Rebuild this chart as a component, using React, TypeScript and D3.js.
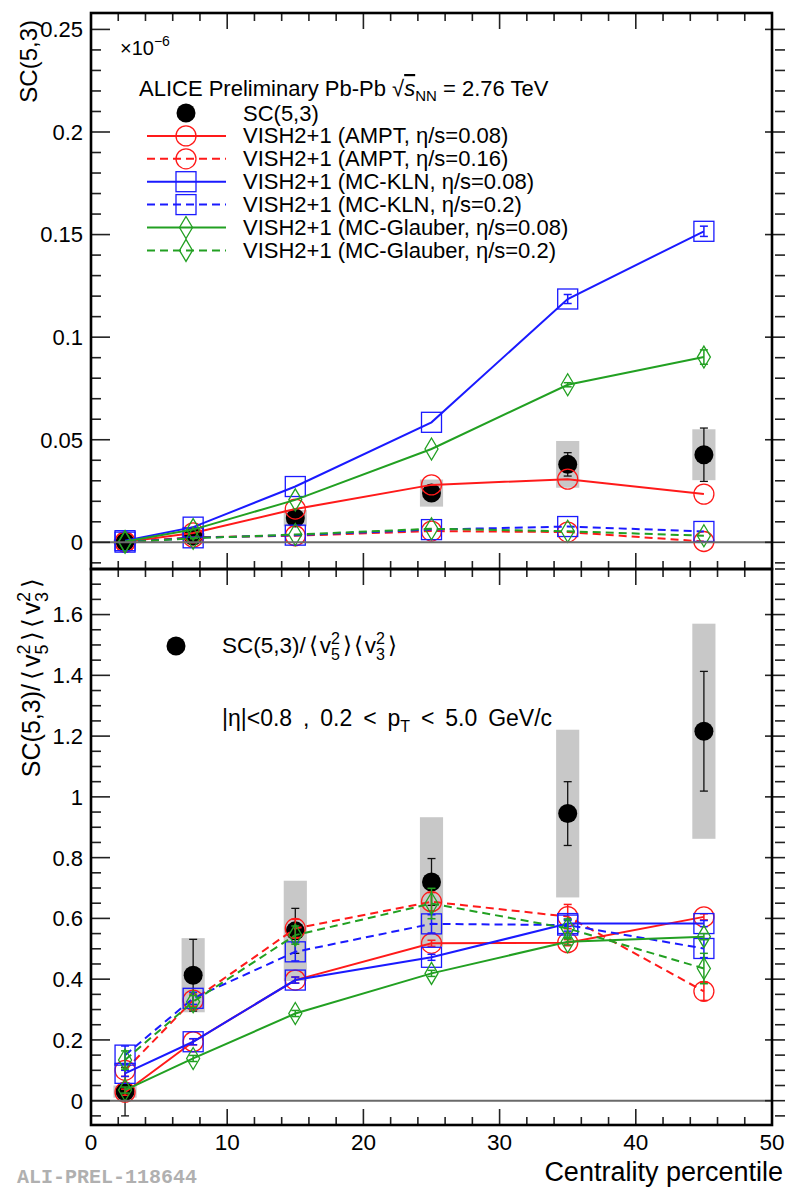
import React from "react";
import * as d3 from "d3";

// ---------------- data ----------------
const centrality = [2.5, 7.5, 15, 25, 35, 45];

// top panel: SC(5,3) in units of 1e-6
const scValues = [0.0003, 0.003, 0.0118, 0.024, 0.0380, 0.0427];
const scStat = [0.0005, 0.0008, 0.0015, 0.002, 0.0057, 0.013];
const scSyst = [0.001, 0.0015, 0.004, 0.0066, 0.0114, 0.0124];

const amptEta008 = [0.0002, 0.0046, 0.0162, 0.028, 0.0308, 0.0235];
const amptEta016 = [0.0001, 0.0025, 0.0032, 0.0055, 0.0050, 0.0004];
const klnEta008 = [0.0008, 0.0074, 0.0272, 0.0585, 0.1186, 0.1516];
const klnEta02 = [0.0001, 0.0022, 0.0035, 0.0062, 0.0077, 0.0053];
const glauberEta008 = [0.0004, 0.0062, 0.0207, 0.0455, 0.0768, 0.0903];
const glauberEta02 = [0.0001, 0.002, 0.0038, 0.0066, 0.0054, 0.0032];

const klnEta008Err = [0, 0, 0, 0, 0.0022, 0.0025];
const glauberEta008Err = [0, 0, 0, 0, 0.001, 0.0035];
const zeroErr = [0, 0, 0, 0, 0, 0];

// bottom panel: SC(5,3)/<v5^2><v3^2>
const ratioValues = [0.03, 0.413, 0.559, 0.72, 0.945, 1.216];
const ratioStat = [0.08, 0.118, 0.074, 0.077, 0.105, 0.197];
const ratioSyst = [0.02, 0.122, 0.165, 0.213, 0.276, 0.354];

const amptEta008R = [0.028, 0.194, 0.397, 0.518, 0.52, 0.605];
const amptEta016R = [0.1, 0.331, 0.567, 0.655, 0.606, 0.36];
const klnEta008R = [0.09, 0.194, 0.397, 0.472, 0.583, 0.583];
const klnEta02R = [0.15, 0.337, 0.49, 0.582, 0.578, 0.501];
const glauberEta008R = [0.035, 0.139, 0.287, 0.419, 0.523, 0.54];
const glauberEta02R = [0.134, 0.326, 0.545, 0.649, 0.567, 0.435];

const amptEta008RErr = [0.01, 0.01, 0.01, 0.01, 0.01, 0.01];
const amptEta016RErr = [0.02, 0.02, 0.03, 0.03, 0.04, 0.03];
const klnEta008RErr = [0.01, 0.01, 0.01, 0.01, 0.01, 0.01];
const klnEta02RErr = [0.03, 0.02, 0.03, 0.03, 0.02, 0.03];
const glauberEta008RErr = [0.01, 0.01, 0.01, 0.01, 0.01, 0.01];
const glauberEta02RErr = [0.03, 0.02, 0.03, 0.05, 0.03, 0.05];

const legendLabels = [
  "SC(5,3)",
  "VISH2+1 (AMPT, η/s=0.08)",
  "VISH2+1 (AMPT, η/s=0.16)",
  "VISH2+1 (MC-KLN, η/s=0.08)",
  "VISH2+1 (MC-KLN, η/s=0.2)",
  "VISH2+1 (MC-Glauber, η/s=0.08)",
  "VISH2+1 (MC-Glauber, η/s=0.2)",
];

const xTicksMajor = [0, 10, 20, 30, 40, 50];
const topTicksMajor = [0, 0.05, 0.1, 0.15, 0.2, 0.25];
const botTicksMajor = [0, 0.2, 0.4, 0.6, 0.8, 1, 1.2, 1.4, 1.6];

// ---------------- layout / style ----------------
const W = 786;
const H = 1190;
const X0 = 91;
const X1 = 772;
const TOP_Y0 = 13;
const MID_Y = 569;
const BOT_Y1 = 1125;

const RED = "#ff1a1a";
const BLUE = "#1a1aff";
const GREEN = "#22a022";
const FONT = "'Liberation Sans', Arial, Helvetica, sans-serif";

const x = d3.scaleLinear().domain([0, 50]).range([X0, X1]);
const yTop = d3.scaleLinear().domain([-0.013, 0.258]).range([MID_Y, TOP_Y0]);
const yBot = d3.scaleLinear().domain([-0.08, 1.75]).range([BOT_Y1, MID_Y]);

type MarkerType = "dot" | "circle" | "square" | "diamond";

function Marker({ type, cx, cy, color }: { type: MarkerType; cx: number; cy: number; color: string }) {
  const sw = 1.3;
  if (type === "dot") return <circle cx={cx} cy={cy} r={9.5} fill="#000" />;
  if (type === "circle")
    return <circle cx={cx} cy={cy} r={10} fill="none" stroke={color} strokeWidth={sw} />;
  if (type === "square")
    return <rect x={cx - 10} y={cy - 10} width={20} height={20} fill="none" stroke={color} strokeWidth={sw} />;
  return (
    <path
      d={`M${cx},${cy - 11}L${cx + 6.5},${cy}L${cx},${cy + 11}L${cx - 6.5},${cy}Z`}
      fill="none"
      stroke={color}
      strokeWidth={sw}
    />
  );
}

function ErrorBar({ cx, y, v, e, color, w }: any) {
  if (!e) return null;
  const a = y(v - e);
  const b = y(v + e);
  return (
    <g stroke={color} strokeWidth={w}>
      <line x1={cx} x2={cx} y1={a} y2={b} />
      <line x1={cx - 4} x2={cx + 4} y1={a} y2={a} />
      <line x1={cx - 4} x2={cx + 4} y1={b} y2={b} />
    </g>
  );
}

type Series = { vals: number[]; err: number[]; color: string; dashed: boolean; marker: MarkerType };

function ModelSeries({ s, y }: { s: Series; y: any }) {
  const line = d3
    .line<number>()
    .x((_, i) => x(centrality[i]))
    .y((d) => y(d));
  return (
    <g>
      <path
        d={line(s.vals) || ""}
        fill="none"
        stroke={s.color}
        strokeWidth={2}
        strokeDasharray={s.dashed ? "8 5" : undefined}
      />
      {s.vals.map((v, i) => (
        <ErrorBar key={"e" + i} cx={x(centrality[i])} y={y} v={v} e={s.err[i]} color={s.color} w={1.5} />
      ))}
      {s.vals.map((v, i) => (
        <Marker key={"m" + i} type={s.marker} cx={x(centrality[i])} cy={y(v)} color={s.color} />
      ))}
    </g>
  );
}

function DataSeries({ vals, stat, syst, y }: any) {
  return (
    <g>
      {vals.map((v: number, i: number) => (
        <rect
          key={"b" + i}
          x={x(centrality[i] - 0.85)}
          width={x(centrality[i] + 0.85) - x(centrality[i] - 0.85)}
          y={y(v + syst[i])}
          height={y(v - syst[i]) - y(v + syst[i])}
          fill="#c8c8c8"
        />
      ))}
      {vals.map((v: number, i: number) => (
        <ErrorBar key={"e" + i} cx={x(centrality[i])} y={y} v={v} e={stat[i]} color="#111" w={1.3} />
      ))}
      {vals.map((v: number, i: number) => (
        <Marker key={"m" + i} type="dot" cx={x(centrality[i])} cy={y(v)} color="#000" />
      ))}
    </g>
  );
}

function Frame({ y, major, minorStep, showXLabels }: any) {
  const [yb, yt] = y.range();
  const [d0, d1] = y.domain();
  const xMinor = d3.range(0, 50.001, 2).filter((t: number) => t % 10 !== 0);
  const yMinor = d3
    .range(Math.ceil(d0 / minorStep) * minorStep, d1 + 1e-9, minorStep)
    .filter((t: number) => !major.some((m: number) => Math.abs(m - t) < 1e-9));
  const fmt = d3.format("~g");
  return (
    <g>
      {/* zero line */}
      <line x1={X0} x2={X1} y1={y(0)} y2={y(0)} stroke="#6a6a6a" strokeWidth={2} />
      {/* x ticks bottom & top */}
      {xTicksMajor.map((t) => (
        <g key={"xM" + t} stroke="#222" strokeWidth={1.6}>
          <line x1={x(t)} x2={x(t)} y1={yb} y2={yb - 16} />
          <line x1={x(t)} x2={x(t)} y1={yt} y2={yt + 16} />
        </g>
      ))}
      {xMinor.map((t: number) => (
        <g key={"xm" + t} stroke="#222" strokeWidth={1.6}>
          <line x1={x(t)} x2={x(t)} y1={yb} y2={yb - 8} />
          <line x1={x(t)} x2={x(t)} y1={yt} y2={yt + 8} />
        </g>
      ))}
      {/* y ticks left & right */}
      {major.map((t: number) => (
        <g key={"yM" + t} stroke="#222" strokeWidth={1.6}>
          <line x1={X0} x2={X0 + 19} y1={y(t)} y2={y(t)} />
          <line x1={X1 - 7} x2={X1 + 13} y1={y(t)} y2={y(t)} />
        </g>
      ))}
      {yMinor.map((t: number) => (
        <g key={"ym" + t} stroke="#222" strokeWidth={1.6}>
          <line x1={X0} x2={X0 + 10} y1={y(t)} y2={y(t)} />
          <line x1={X1 + 3} x2={X1 + 13} y1={y(t)} y2={y(t)} />
        </g>
      ))}
      {/* y labels */}
      {major.map((t: number) => (
        <text
          key={"yl" + t}
          x={83}
          y={y(t)}
          dy="0.36em"
          textAnchor="end"
          fontSize={22}
          fontFamily={FONT}
          fill="#000"
        >
          {fmt(t)}
        </text>
      ))}
      {showXLabels &&
        xTicksMajor.map((t) => (
          <text key={"xl" + t} x={x(t)} y={1150} textAnchor="middle" fontSize={22.5} fontFamily={FONT} fill="#000">
            {fmt(t)}
          </text>
        ))}
      {/* frame */}
      <rect x={X0} y={yt} width={X1 - X0} height={yb - yt} fill="none" stroke="#000" strokeWidth={2.6} />
    </g>
  );
}

export default function App() {
  const topSeries: Series[] = [
    { vals: amptEta008, err: zeroErr, color: RED, dashed: false, marker: "circle" },
    { vals: amptEta016, err: zeroErr, color: RED, dashed: true, marker: "circle" },
    { vals: klnEta008, err: klnEta008Err, color: BLUE, dashed: false, marker: "square" },
    { vals: klnEta02, err: zeroErr, color: BLUE, dashed: true, marker: "square" },
    { vals: glauberEta008, err: glauberEta008Err, color: GREEN, dashed: false, marker: "diamond" },
    { vals: glauberEta02, err: zeroErr, color: GREEN, dashed: true, marker: "diamond" },
  ];
  const botSeries: Series[] = [
    { vals: amptEta008R, err: amptEta008RErr, color: RED, dashed: false, marker: "circle" },
    { vals: amptEta016R, err: amptEta016RErr, color: RED, dashed: true, marker: "circle" },
    { vals: klnEta008R, err: klnEta008RErr, color: BLUE, dashed: false, marker: "square" },
    { vals: klnEta02R, err: klnEta02RErr, color: BLUE, dashed: true, marker: "square" },
    { vals: glauberEta008R, err: glauberEta008RErr, color: GREEN, dashed: false, marker: "diamond" },
    { vals: glauberEta02R, err: glauberEta02RErr, color: GREEN, dashed: true, marker: "diamond" },
  ];
  const legendStyles: { color: string; dashed: boolean | null; marker: MarkerType }[] = [
    { color: "#000", dashed: null, marker: "dot" },
    ...topSeries.map((s) => ({ color: s.color, dashed: s.dashed, marker: s.marker })),
  ];

  return (
    <svg
      width={W}
      height={H}
      style={{ position: "absolute", left: 0, top: 0, background: "#fff" }}
      fontFamily={FONT}
    >
      <rect width={W} height={H} fill="#fff" />

      {/* ---------- top panel ---------- */}
      <DataSeries vals={scValues} stat={scStat} syst={scSyst} y={yTop} />
      {topSeries.map((s, i) => (
        <ModelSeries key={i} s={s} y={yTop} />
      ))}
      <Frame y={yTop} major={topTicksMajor} minorStep={0.01} showXLabels={false} />

      <text x={120} y={55} fontSize={20}>
        ×10<tspan fontSize={14} dy={-9}>−6</tspan>
      </text>
      <text x={139} y={96} fontSize={22}>
        ALICE Preliminary Pb-Pb √
        <tspan fontStyle="italic" textDecoration="overline">s</tspan>
        <tspan fontSize={15} dy={5}>NN</tspan>
        <tspan dy={-5}> = 2.76 TeV</tspan>
      </text>
      {legendLabels.map((lab, i) => {
        const cy = 113 + i * 22.9;
        const st = legendStyles[i];
        return (
          <g key={"lg" + i}>
            {st.dashed !== null && (
              <line
                x1={147}
                x2={226}
                y1={cy}
                y2={cy}
                stroke={st.color}
                strokeWidth={2}
                strokeDasharray={st.dashed ? "8 5" : undefined}
              />
            )}
            <Marker type={st.marker} cx={186} cy={cy} color={st.color} />
            <text x={243} y={cy + 7.5} fontSize={22}>
              {lab}
            </text>
          </g>
        );
      })}

      <text transform="translate(37,20) rotate(-90)" textAnchor="end" fontSize={24}>
        SC(5,3)
      </text>

      {/* ---------- bottom panel ---------- */}
      <DataSeries vals={ratioValues} stat={ratioStat} syst={ratioSyst} y={yBot} />
      {botSeries.map((s, i) => (
        <ModelSeries key={i} s={s} y={yBot} />
      ))}
      <Frame y={yBot} major={botTicksMajor} minorStep={0.05} showXLabels={true} />

      <Marker type="dot" cx={176} cy={646} color="#000" />
      <text x={222} y={653} fontSize={22.5}>
        SC(5,3)/<tspan dx={3}>⟨</tspan>
        <tspan dx={2}>v</tspan>
        <tspan fontSize={16} dy={-9}>2</tspan>
        <tspan fontSize={16} dx={-9} dy={16}>5</tspan>
        <tspan dy={-7} dx={3}>⟩</tspan>
        <tspan dx={2}>⟨</tspan>
        <tspan dx={2}>v</tspan>
        <tspan fontSize={16} dy={-9}>2</tspan>
        <tspan fontSize={16} dx={-9} dy={16}>3</tspan>
        <tspan dy={-7} dx={3}>⟩</tspan>
      </text>
      <text x={222} y={726} fontSize={23} wordSpacing={4.5}>
        |η|&lt;0.8 , 0.2 &lt; p<tspan fontSize={16} dy={6}>T</tspan>
        <tspan dy={-6}> &lt; 5.0 GeV/c</tspan>
      </text>

      <text transform="translate(40,578) rotate(-90)" textAnchor="end" fontSize={25}>
        SC(5,3)/<tspan dx={4}>⟨</tspan>
        <tspan dx={3}>v</tspan>
        <tspan fontSize={18} dy={-10}>2</tspan>
        <tspan fontSize={18} dx={-10} dy={18}>5</tspan>
        <tspan dy={-8} dx={4}>⟩</tspan>
        <tspan dx={3}>⟨</tspan>
        <tspan dx={3}>v</tspan>
        <tspan fontSize={18} dy={-10}>2</tspan>
        <tspan fontSize={18} dx={-10} dy={18}>3</tspan>
        <tspan dy={-8} dx={4}>⟩</tspan>
      </text>

      <text x={783} y={1181} textAnchor="end" fontSize={27}>
        Centrality percentile
      </text>
      <text
        x={17}
        y={1183}
        fontSize={20}
        fontWeight="bold"
        fontFamily="'Liberation Mono', 'DejaVu Sans Mono', monospace"
        fill="#b0b0b0"
      >
        ALI-PREL-118644
      </text>
    </svg>
  );
}
